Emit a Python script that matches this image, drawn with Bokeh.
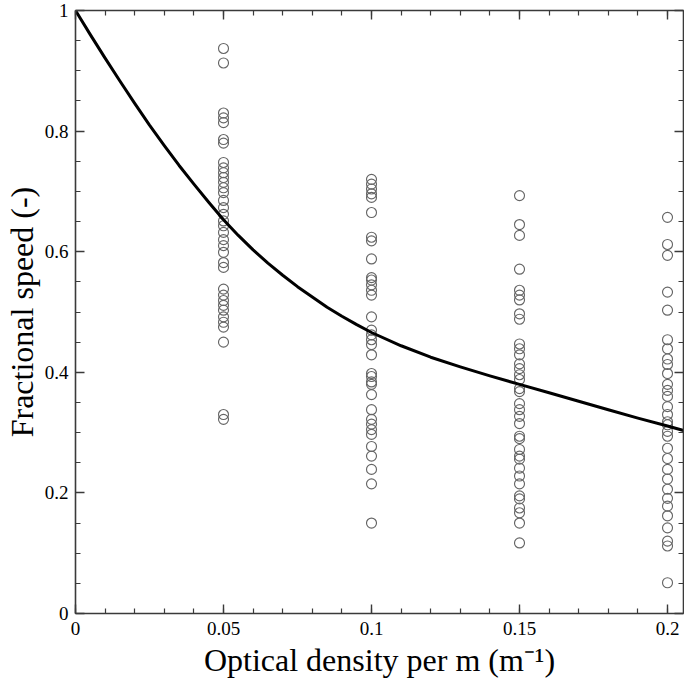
from bokeh.plotting import figure
from bokeh.models import LinearAxis, FixedTicker, Range1d, ColumnDataSource
from bokeh.embed import file_html
from bokeh.resources import INLINE

# Observed fractional speeds at each optical density
density_levels = [0.05, 0.10, 0.15, 0.20]
speeds_005 = [0.937, 0.913, 0.830, 0.822, 0.814, 0.786, 0.780, 0.748, 0.739, 0.731,
              0.723, 0.715, 0.706, 0.698, 0.685, 0.673, 0.662, 0.651, 0.643, 0.632,
              0.620, 0.610, 0.599, 0.582, 0.574, 0.538, 0.528, 0.519, 0.511, 0.503,
              0.492, 0.483, 0.475, 0.450, 0.330, 0.322]
speeds_010 = [0.720, 0.712, 0.704, 0.696, 0.690, 0.665, 0.624, 0.618, 0.588, 0.557,
              0.553, 0.545, 0.536, 0.528, 0.492, 0.470, 0.462, 0.454, 0.446, 0.429,
              0.398, 0.393, 0.384, 0.380, 0.363, 0.338, 0.322, 0.314, 0.305, 0.297,
              0.277, 0.261, 0.239, 0.215, 0.150]
speeds_015 = [0.693, 0.645, 0.627, 0.571, 0.536, 0.528, 0.520, 0.497, 0.488, 0.447,
              0.439, 0.429, 0.414, 0.406, 0.396, 0.388, 0.373, 0.368, 0.348, 0.338,
              0.327, 0.315, 0.294, 0.290, 0.272, 0.261, 0.256, 0.241, 0.228, 0.215,
              0.195, 0.190, 0.175, 0.167, 0.150, 0.117]
speeds_020 = [0.657, 0.612, 0.594, 0.533, 0.503, 0.454, 0.439, 0.422, 0.413, 0.398,
              0.380, 0.370, 0.360, 0.343, 0.330, 0.318, 0.313, 0.302, 0.294, 0.274,
              0.257, 0.239, 0.223, 0.206, 0.191, 0.178, 0.162, 0.142, 0.120, 0.112,
              0.051]

# Fitted curve
curve_x = [0.0, 0.005, 0.01, 0.015, 0.02, 0.025, 0.03, 0.035, 0.04, 0.045, 0.05,
           0.055, 0.06, 0.065, 0.07, 0.075, 0.08, 0.085, 0.09, 0.095, 0.10,
           0.11, 0.12, 0.13, 0.14, 0.15, 0.16, 0.17, 0.18, 0.19, 0.20, 0.21]
curve_y = [1.0, 0.960, 0.921, 0.883, 0.846, 0.810, 0.776, 0.743, 0.712, 0.682, 0.653,
           0.627, 0.603, 0.581, 0.561, 0.542, 0.525, 0.508, 0.493, 0.479, 0.466,
           0.444, 0.425, 0.409, 0.394, 0.380, 0.366, 0.352, 0.338, 0.324, 0.311, 0.297]

x_ticks = [0.0, 0.05, 0.10, 0.15, 0.20]
x_tick_labels = ["0", "0.05", "0.1", "0.15", "0.2"]
y_ticks = [0.0, 0.2, 0.4, 0.6, 0.8, 1.0]
y_tick_labels = ["0", "0.2", "0.4", "0.6", "0.8", "1"]
x_minor = [round(0.01 * i, 2) for i in range(0, 21)]
y_minor = [round(0.05 * i, 2) for i in range(0, 21)]

FONT = "Liberation Serif"

p = figure(width=684, height=692, output_backend="svg", toolbar_location=None,
           x_range=Range1d(0, 0.2054), y_range=Range1d(0, 1.0),
           min_border_left=75, min_border_right=1, min_border_top=10, min_border_bottom=79)
p.xaxis.visible = False
p.yaxis.visible = False
p.grid.visible = False
p.outline_line_color = None
p.background_fill_color = "white"

xs, ys = [], []
for lvl, vals in zip(density_levels, [speeds_005, speeds_010, speeds_015, speeds_020]):
    xs += [lvl] * len(vals)
    ys += vals
src = ColumnDataSource(dict(x=xs, y=ys))
p.scatter("x", "y", source=src, size=10, marker="circle", fill_color=None,
          line_color="#666666", line_width=1.15)

p.line(curve_x, curve_y, line_color="black", line_width=3, line_join="round")

def make_axis(loc, ticks, labels, minor, show_labels, title=None):
    ax = LinearAxis(ticker=FixedTicker(ticks=ticks, minor_ticks=minor))
    ax.major_label_overrides = {t: l for t, l in zip(ticks, labels)}
    ax.axis_line_color = "#3a3a3a"
    ax.axis_line_width = 1.6
    ax.major_tick_line_color = "#3a3a3a"
    ax.minor_tick_line_color = "#3a3a3a"
    ax.major_tick_line_width = 1.4
    ax.minor_tick_line_width = 1.2
    ax.major_tick_in = 9
    ax.major_tick_out = 0
    ax.minor_tick_in = 5
    ax.minor_tick_out = 0
    ax.major_label_text_font = FONT
    ax.major_label_text_font_size = "19px"
    ax.major_label_text_color = "black"
    if not show_labels:
        ax.major_label_text_font_size = "0px"
        ax.major_label_text_alpha = 0
        ax.major_label_standoff = 0
        ax.axis_label_standoff = 0
    if title:
        ax.axis_label = title
        ax.axis_label_text_font = FONT
        ax.axis_label_text_font_size = "32px"
        ax.axis_label_text_font_style = "normal"
        ax.axis_label_text_color = "black"
    p.add_layout(ax, loc)
    return ax

bx = make_axis("below", x_ticks, x_tick_labels, x_minor, True, "Optical density per m (m\u207b\u00b9)")
bx.major_label_standoff = 8
bx.axis_label_standoff = 4
ly = make_axis("left", y_ticks, y_tick_labels, y_minor, True, "Fractional speed (-)")
ly.major_label_standoff = 7
ly.axis_label_standoff = 2
make_axis("above", x_ticks, x_tick_labels, x_minor, False)
make_axis("right", y_ticks, y_tick_labels, y_minor, False)

open("out.html", "w").write(file_html(p, INLINE))
